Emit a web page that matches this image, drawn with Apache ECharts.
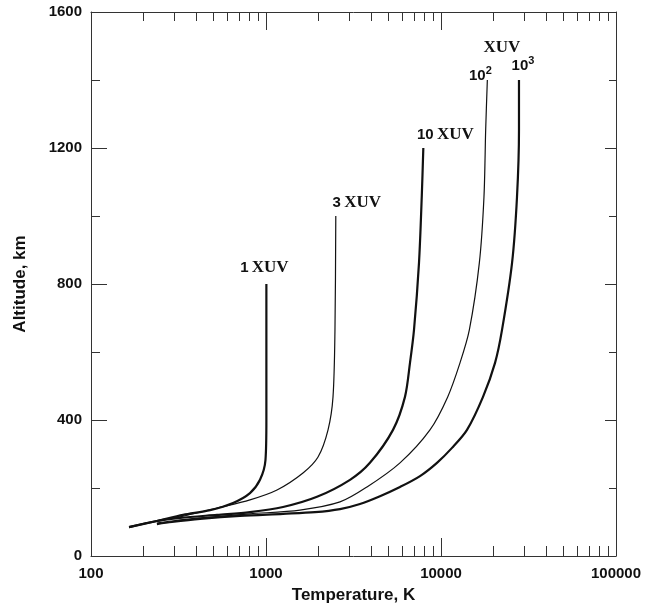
<!DOCTYPE html>
<html>
<head>
<meta charset="utf-8">
<script src="https://cdn.jsdelivr.net/npm/echarts@6/dist/echarts.min.js"></script>
<style>
  html, body { margin: 0; padding: 0; background: #ffffff; }
  #chart { width: 645px; height: 610px; }
</style>
</head>
<body>
<div id="chart"></div>
<script>
// Thermospheric temperature profiles (altitude vs. temperature) for rising XUV flux levels

// 1 XUV
const xuv1Temp = [165, 238, 336, 479, 648, 810, 924, 993, 1005, 1005, 1005];
const xuv1Alt  = [85, 103, 121, 135, 156, 185, 224, 282, 400, 600, 800];

// 3 XUV
const xuv3Temp = [165, 238, 323, 525, 810, 1156, 1627, 1983, 2262, 2415, 2478, 2505];
const xuv3Alt  = [85, 103, 115, 141, 165, 194, 244, 291, 371, 468, 665, 1000];

// 10 XUV
const xuv10Temp = [165, 238, 323, 525, 810, 1251, 1956, 3020, 3926, 5318, 6225, 6650, 7010, 7486, 7762, 7925];
const xuv10Alt  = [85, 103, 112, 121, 129, 144, 174, 224, 274, 371, 468, 568, 665, 862, 1056, 1200];

// 10^2 XUV
const xuv100Temp = [238, 290, 420, 810, 1564, 2648, 3777, 5830, 8650, 10920, 12840, 14520, 16560, 17600, 18000, 18400];
const xuv100Alt  = [97, 103, 112, 124, 135, 159, 203, 274, 371, 468, 568, 665, 862, 1056, 1253, 1400];

// 10^3 XUV
const xuv1000Temp = [238, 290, 420, 710, 1251, 1905, 2648, 3443, 4480, 5830, 7586, 9484, 11560, 14080, 17380, 20360, 22320, 25470, 27180, 27900, 27900];
const xuv1000Alt  = [94, 100, 109, 118, 124, 129, 138, 153, 176, 203, 235, 274, 318, 371, 468, 568, 665, 862, 1056, 1253, 1400];

// Axis ticks
const tempMajorTicks = [100, 1000, 10000, 100000];
const altLabelValues = [0, 400, 800, 1200, 1600];
const altMajorTicks = [400, 800, 1200];
const altMinorTicks = [200, 600, 1000, 1400];

const tempMinorTicks = [];
for (let d = 100; d < 100000; d *= 10) {
  for (let m = 2; m <= 9; m++) tempMinorTicks.push(d * m);
}

const ink = '#111111';
const sans = 'Liberation Sans, Arial, Helvetica, sans-serif';
const serif = 'Liberation Serif, Times New Roman, serif';

const rich = {
  num:  { fontFamily: sans,  fontWeight: 'bold', fontSize: 15, color: ink, lineHeight: 20 },
  xuv:  { fontFamily: serif, fontWeight: 'bold', fontSize: 17, color: ink, lineHeight: 20 },
  xuvTop: { fontFamily: serif, fontWeight: 'bold', fontSize: 17, color: ink, lineHeight: 14, padding: [0, 42, 0, 0] },
  sup:  { fontFamily: sans,  fontWeight: 'bold', fontSize: 11, color: ink, lineHeight: 22, verticalAlign: 'top' }
};

function curve(temps, alts, width, label) {
  const data = temps.map((t, i) => [t, alts[i]]);
  const last = data.length - 1;
  data[last] = {
    value: data[last],
    label: Object.assign({ show: true, position: 'top', rich: rich }, label)
  };
  return {
    type: 'line',
    data: data,
    xAxisIndex: 0,
    yAxisIndex: 0,
    smooth: 0.3,
    symbol: 'circle',
    symbolSize: 0,
    showSymbol: true,
    showAllSymbol: true,
    itemStyle: { color: ink },
    lineStyle: { color: ink, width: width },
    label: { show: false },
    silent: true,
    clip: false
  };
}

const tickLabelStyle = { fontFamily: sans, fontWeight: 'bold', fontSize: 15, color: ink };
const titleStyle = { fontFamily: sans, fontWeight: 'bold', fontSize: 17, color: ink };
const tickLine = { color: '#333', width: 1 };
function frame(visible) {
  return { show: visible, onZero: false, lineStyle: { color: '#333', width: 1 } };
}

// Log temperature axis; ticks == null gives a label-only axis
function tempAxis(position, ticks, len, withLine, withLabels) {
  return {
    type: 'log',
    logBase: 10,
    min: 100,
    max: 100000,
    position: position,
    offset: 0,
    axisLine: frame(withLine),
    axisTick: ticks
      ? { show: true, inside: true, length: len, lineStyle: tickLine, customValues: ticks }
      : { show: false },
    axisLabel: withLabels
      ? Object.assign({ show: true, margin: 10, customValues: tempMajorTicks, formatter: v => String(Math.round(v)) }, tickLabelStyle)
      : { show: false },
    splitLine: { show: false },
    minorTick: { show: false },
    name: withLabels ? 'Temperature, K' : '',
    nameLocation: 'middle',
    nameGap: 31,
    nameTextStyle: titleStyle
  };
}

// Altitude axis; ticks == null gives a label-only axis
function altAxis(position, ticks, len, withLine, withLabels) {
  return {
    type: 'value',
    min: 0,
    max: 1600,
    interval: 400,
    position: position,
    offset: 0,
    axisLine: frame(withLine),
    axisTick: ticks
      ? { show: true, inside: true, length: len, lineStyle: tickLine, customValues: ticks }
      : { show: false },
    minorTick: { show: false },
    axisLabel: withLabels
      ? Object.assign({ show: true, margin: 9, customValues: altLabelValues, formatter: v => String(v) }, tickLabelStyle)
      : { show: false },
    splitLine: { show: false },
    name: withLabels ? 'Altitude, km' : '',
    nameLocation: 'middle',
    nameGap: 62,
    nameTextStyle: titleStyle
  };
}

const chart = echarts.init(document.getElementById('chart'), null, { renderer: 'canvas' });

chart.setOption({
  backgroundColor: '#ffffff',
  animation: false,
  grid: { left: 91, right: 29, top: 12, bottom: 54, containLabel: false },
  xAxis: [
    tempAxis('bottom', null, 0, true, true),
    tempAxis('bottom', tempMajorTicks, 18, false, false),
    tempAxis('bottom', tempMinorTicks, 10, false, false),
    tempAxis('top', tempMajorTicks, 18, true, false),
    tempAxis('top', tempMinorTicks, 9, false, false)
  ],
  yAxis: [
    altAxis('left', null, 0, true, true),
    altAxis('left', altMajorTicks, 16, false, false),
    altAxis('left', altMinorTicks, 9, false, false),
    altAxis('right', altMajorTicks, 11, true, false),
    altAxis('right', altMinorTicks, 7, false, false)
  ],
  series: [
    curve(xuv1Temp, xuv1Alt, 2.2, { formatter: '{num|1} {xuv|XUV}', distance: 6, offset: [-2, 0] }),
    curve(xuv3Temp, xuv3Alt, 1.2, { formatter: '{num|3} {xuv|XUV}', distance: 3, offset: [21, 0] }),
    curve(xuv10Temp, xuv10Alt, 2.2, { formatter: '{num|10} {xuv|XUV}', distance: 3, offset: [22, 0] }),
    curve(xuv100Temp, xuv100Alt, 1.2, { formatter: '{num|10}{sup|2}', distance: 0, offset: [-7, 7] }),
    curve(xuv1000Temp, xuv1000Alt, 2.2, { formatter: '{xuvTop|XUV}\n{num|10}{sup|3}', distance: 3, offset: [4, 0] })
  ]
});
</script>
</body>
</html>
